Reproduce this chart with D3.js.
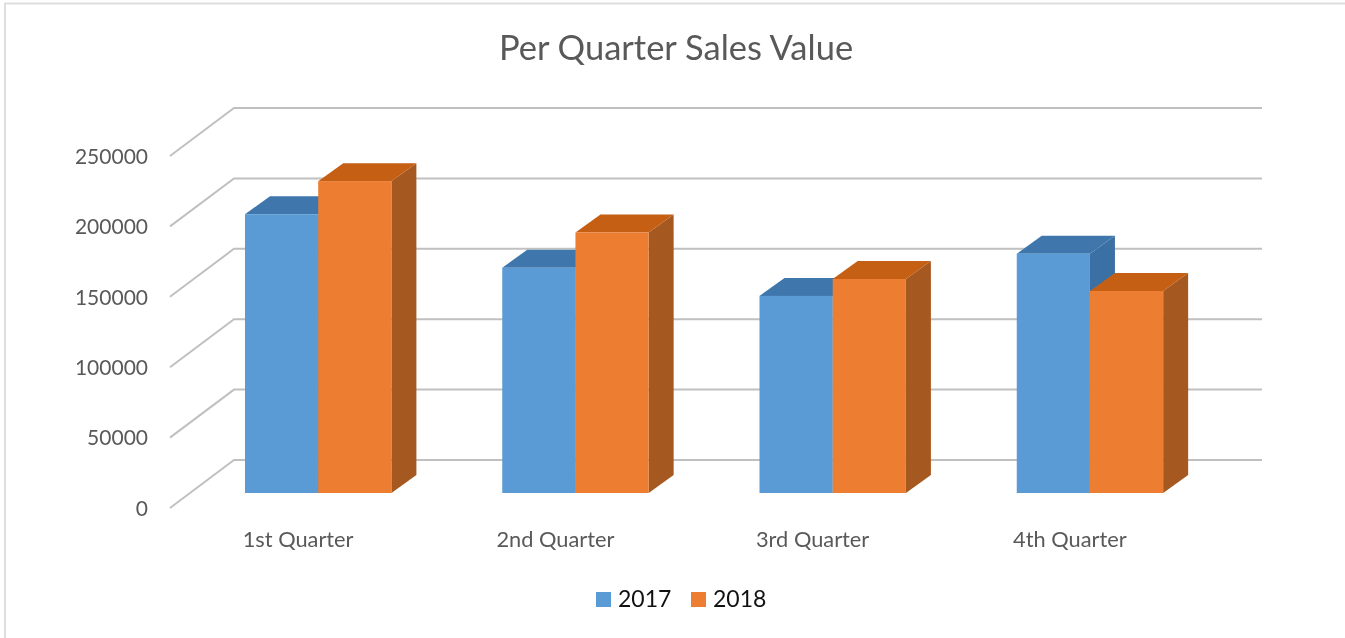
<!DOCTYPE html>
<html><head><meta charset="utf-8">
<script src="https://cdnjs.cloudflare.com/ajax/libs/d3/7.8.5/d3.min.js"></script>
<style>html,body{margin:0;background:#fff}svg{display:block;filter:blur(0.4px)}text{font-family:Lato,"Open Sans",sans-serif}</style>
</head><body><svg id="c" width="1345" height="638"></svg>
<script>
const categories=["1st Quarter","2nd Quarter","3rd Quarter","4th Quarter"];
const years=["2017","2018"];
const sales2017=[198000,160000,140000,170000];
const sales2018=[221500,185000,152000,143500];
const yTicks=[0,50000,100000,150000,200000,250000];
const titleText="Per Quarter Sales Value";

const faceColors=["#5B9BD5","#ED7D31"], topColors=["#3F77AC","#C55F14"], sideColors=["#3A70A3","#A5581F"];
const svg=d3.select("#c");
svg.append("path").attr("d","M1345,3.5H5V638").attr("fill","none").attr("stroke","#dedede").attr("stroke-width",2);
svg.append("text").attr("x",676).attr("y",60).attr("text-anchor","middle").attr("font-size",34.5).attr("fill","#595959").text(titleText);

const y=d3.scaleLinear().domain([0,250000]).range([508,156]);
const wallDx=64, wallDy=-48, rightX=1262;
const g=svg.append("g");
yTicks.forEach(t=>{
  const p=d3.path();
  p.moveTo(170,y(t)); p.lineTo(170+wallDx,y(t)+wallDy); p.lineTo(rightX,y(t)+wallDy);
  g.append("path").attr("d",p.toString()).attr("fill","none").attr("stroke","#c0c0c0").attr("stroke-width",2);
  svg.append("text").attr("x",148).attr("y",y(t)+7.8).attr("text-anchor","end").attr("font-size",21).attr("fill","#595959").text(t);
});

const x=d3.scaleBand().domain(categories).range([190,1219]);
const barW=73.2, depthX=25, depthY=-18, barOffset=55, baseY=493;
const hScale=d3.scaleLinear().domain([0,250000]).range([0,352]);
const series=[sales2017,sales2018];
const poly=pts=>"M"+pts.map(p=>p.join(",")).join("L")+"Z";
categories.forEach((c,i)=>{
  series.forEach((s,j)=>{
    const x0=x(c)+barOffset+j*barW, x1=x0+barW, top=baseY-hScale(s[i]);
    const b=svg.append("g");
    b.append("path").attr("d",poly([[x1,baseY],[x1+depthX,baseY+depthY],[x1+depthX,top+depthY],[x1,top]])).attr("fill",sideColors[j]);
    b.append("path").attr("d",poly([[x0,top],[x0+depthX,top+depthY],[x1+depthX,top+depthY],[x1,top]])).attr("fill",topColors[j]);
    b.append("rect").attr("x",x0).attr("y",top).attr("width",barW).attr("height",baseY-top).attr("fill",faceColors[j]);
  });
  svg.append("text").attr("x",x(c)+x.bandwidth()/2-20.5).attr("y",547).attr("text-anchor","middle").attr("font-size",21.8).attr("fill","#595959").text(c);
});

const legendX=[596,691];
years.forEach((t,j)=>{
  svg.append("rect").attr("x",legendX[j]).attr("y",592).attr("width",15).attr("height",15).attr("fill",faceColors[j]);
  svg.append("text").attr("x",legendX[j]+22).attr("y",607).attr("font-size",23).attr("fill","#111").text(t);
});
</script></body></html>
